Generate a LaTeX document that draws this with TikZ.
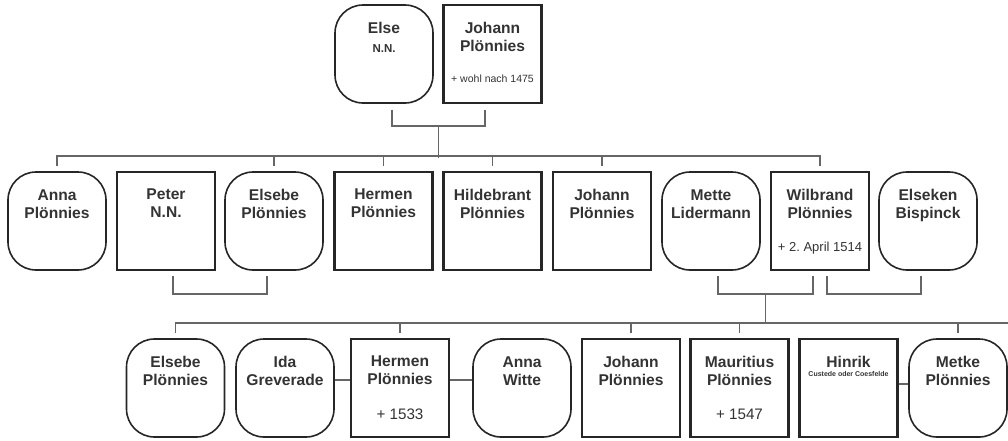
\documentclass[tikz,border=0pt]{standalone}
\usepackage{fontspec}
\setmainfont{Liberation Sans}
\usetikzlibrary{calc}
\frenchspacing

\begin{document}
\begin{tikzpicture}[x=1pt,y=-1pt,text=black!80,
    who/.style={label={[anchor=north,yshift=-18pt,inner sep=0pt,align=center,
        font=\bfseries\fontsize{15.6}{18}\selectfont]north:#1}},
    died/.style 2 args={label={[anchor=north,yshift=-70.5pt,inner sep=0pt,
        font=\fontsize{#1}{#1}\selectfont]north:#2}}]
  \tikzstyle{man}=[draw=black!85,line width=2.2pt,minimum width=98pt,minimum height=98pt,inner sep=0pt]
  \tikzstyle{woman}=[man,line width=1.6pt,rounded corners=28pt]
  \tikzstyle{kin}=[draw=black!60,line width=1.5pt]

  \useasboundingbox (0,0) rectangle (1008,440);

  % parents
  \node[woman, who={Else},
        label={[anchor=north,yshift=-40pt,inner sep=0pt,font=\bfseries\fontsize{11.5}{12}\selectfont]north:N.N.}]
        (else) at (384,54) {};
  \node[man, who={Johann\\Plönnies}, died={10.5}{+ wohl nach 1475}] (johann) at (492.5,54) {};

  % children
  \node[woman, who={Anna\\Plönnies}]       (anna)       at (57,221)  {};
  \node[man,   who={Peter\\N.N.}]          (peter)      at (166,221) {};
  \node[woman, who={Elsebe\\Plönnies}]     (elsebe)     at (274,221) {};
  \node[man,   who={Hermen\\Plönnies}]     (hermen)     at (383.5,221) {};
  \node[man,   who={Hildebrant\\Plönnies}] (hildebrant) at (492.5,221) {};
  \node[man,   who={Johann\\Plönnies}]     (johannB)    at (602,221) {};
  \node[woman, who={Mette\\Lidermann}]     (mette)      at (711,221) {};
  \node[man,   who={Wilbrand\\Plönnies}, died={13}{+ 2. April 1514}] (wilbrand) at (820,221) {};
  \node[woman, who={Elseken\\Bispinck}]    (elseken)    at (928,221) {};

  % grandchildren
  \node[woman, who={Elsebe\\Plönnies}]     (elsebeC)    at (175.5,388) {};
  \node[woman, who={Ida\\Greverade}]       (ida)        at (285,388) {};
  \node[man,   who={Hermen\\Plönnies}, died={15.2}{+ 1533}] (hermenC) at (400,388) {};
  \node[woman, who={Anna\\Witte}]          (annaC)      at (522,388) {};
  \node[man,   who={Johann\\Plönnies}]     (johannC)    at (631,388) {};
  \node[man,   who={Mauritius\\Plönnies}, died={15.2}{+ 1547}] (mauritius) at (739.5,388) {};
  \node[man,   who={Hinrik},
        label={[anchor=north,yshift=-33pt,inner sep=0pt,font=\bfseries\fontsize{7}{7}\selectfont]north:Custede oder Coesfelde}]
        (hinrik) at (848.5,388) {};
  \node[woman, who={Metke\\Plönnies}]      (metke)      at (958,388) {};
  \coordinate (edge) at (1008,323);

  % marriages
  \draw[kin] ($(else.south)+(8,6)$) -- ++(0,16) -| ($(johann.south)+(-7.5,6)$);
  \draw[kin] ($(peter.south)+(7,5)$) -- ++(0,18) -| ($(elsebe.south)+(-7,5)$);
  \draw[kin] ($(mette.south)+(7,5)$) -- ++(0,18) -| ($(wilbrand.south)+(-7,5)$);
  \draw[kin] ($(wilbrand.south)+(7,5)$) -- ++(0,18) -| ($(elseken.south)+(-7,5)$);
  \draw[kin] ($(ida.east)+(0,-8)$) -- ($(hermenC.west)+(0,-8)$);
  \draw[kin] ($(hermenC.east)+(0,-8)$) -- ($(annaC.west)+(0,-8)$);
  \draw[kin] ($(hinrik.east)+(0,-4)$) -- ($(metke.west)+(0,-4)$);

  % descent
  \draw[kin] ($(else.south)!0.5!(johann.south)+(0,22)$) -- ++(0,32);
  \draw[kin] ($(anna.north)+(0,-5)$) |- ($(wilbrand.north)+(0,-15)$) -- ($(wilbrand.north)+(0,-5)$);
  \foreach \k in {elsebe,hermen,hildebrant,johannB}
    \draw[kin] ($(\k.north)+(0,-5)$) -- ++(0,-10);
  \draw[kin] ($(mette.south)!0.5!(wilbrand.south)+(0,23)$) -- ++(0,30);
  \draw[kin] ($(elsebeC.north)+(0,-5)$) |- (edge);
  \foreach \k in {hermenC,johannC,mauritius,metke}
    \draw[kin] ($(\k.north)+(0,-5)$) -- ++(0,-11);
\end{tikzpicture}
\end{document}
